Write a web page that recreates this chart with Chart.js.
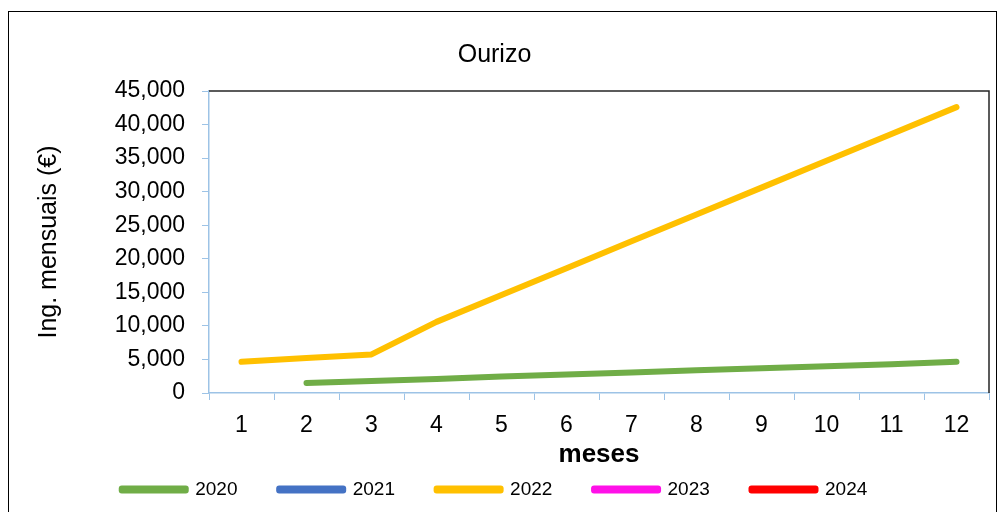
<!DOCTYPE html>
<html>
<head>
<meta charset="utf-8">
<script src="https://cdn.jsdelivr.net/npm/chart.js@4/dist/chart.umd.min.js"></script>
<style>
    html, body { margin: 0; padding: 0; background: #fff; }
    #wrap { position: relative; width: 1002px; height: 512px; overflow: hidden; }
    #frame { position: absolute; left: 8px; top: 11px; width: 987px; height: 520px; border: 1.5px solid #000; }
    #chart { position: absolute; left: 0; top: 0; }
</style>
</head>
<body>
<div id="wrap">
    <div id="frame"></div>
    <canvas id="chart" width="1002" height="512"></canvas>
</div>
<script>
const months = ['1', '2', '3', '4', '5', '6', '7', '8', '9', '10', '11', '12'];
const years = ['2020', '2021', '2022', '2023', '2024'];
const colors = ['#70AD47', '#4472C4', '#FFC000', '#FF10E8', '#FF0000'];

// ingresos mensuales por año (null = sin dato)
const ing2020 = [null, 1500, 1800, 2100, 2450, 2750, 3050, 3400, 3700, 4000, 4300, 4650];
const ing2021 = [];
const ing2022 = [4650, 5200, 5750, 10600, 14600, 18600, 22600, 26600, 30600, 34600, 38600, 42600];
const ing2023 = [];
const ing2024 = [];

const axisBlue = '#9DC3E6';
const font = "'Liberation Sans', Arial, sans-serif";

// marco negro arriba y a la derecha del área de trazado
const plotFrame = {
    id: 'plotFrame',
    afterDraw(chart) {
        const a = chart.chartArea;
        const c = chart.ctx;
        c.save();
        c.strokeStyle = '#262626';
        c.lineWidth = 1.5;
        c.beginPath();
        c.moveTo(a.left, a.top);
        c.lineTo(a.right, a.top);
        c.lineTo(a.right, a.bottom);
        c.stroke();
        c.restore();
    }
};

const series = [ing2020, ing2021, ing2022, ing2023, ing2024];

new Chart(document.getElementById('chart'), {
    type: 'line',
    data: {
        labels: months,
        datasets: series.map((d, i) => ({
            label: years[i],
            data: d,
            borderColor: colors[i],
            backgroundColor: colors[i],
            borderWidth: 6,
            borderCapStyle: 'round',
            borderJoinStyle: 'round',
            pointRadius: 0,
            pointHoverRadius: 0,
            spanGaps: false
        }))
    },
    options: {
        responsive: false,
        animation: false,
        layout: { padding: { left: 0, right: 13, top: 0, bottom: 3 } },
        plugins: {
            title: {
                display: true,
                text: 'Ourizo',
                color: '#000',
                font: { family: font, size: 25, weight: 'normal' },
                padding: { top: 40, bottom: 21 }
            },
            legend: {
                position: 'bottom',
                labels: {
                    color: '#000',
                    font: { family: font, size: 19 },
                    boxWidth: 64,
                    boxHeight: 2,
                    padding: 10,
                    // espacio extra entre entradas sin agrandar la altura
                    generateLabels(chart) {
                        const items = Chart.defaults.plugins.legend.labels.generateLabels(chart);
                        items.forEach((it, i) => {
                            if (i < items.length - 1) it.text += '      ';
                        });
                        return items;
                    }
                }
            },
            tooltip: { enabled: false }
        },
        scales: {
            x: {
                offset: true,
                grid: {
                    offset: true,
                    drawOnChartArea: false,
                    color: axisBlue,
                    tickLength: 7
                },
                border: { color: axisBlue, width: 1.5 },
                ticks: { color: '#000', font: { family: font, size: 23 }, padding: 12 },
                title: {
                    display: true,
                    text: 'meses',
                    color: '#000',
                    font: { family: font, size: 26, weight: 'bold' },
                    padding: { top: 0, bottom: 0 }
                },
                afterFit(scale) { scale.height = 77; }
            },
            y: {
                min: 0,
                max: 45000,
                grid: {
                    drawOnChartArea: false,
                    color: axisBlue,
                    tickLength: 7
                },
                border: { color: axisBlue, width: 1.5 },
                ticks: {
                    stepSize: 5000,
                    color: '#000',
                    font: { family: font, size: 23 },
                    padding: 17,
                    callback: v => v.toLocaleString('en-US')
                },
                title: {
                    display: true,
                    text: 'Ing. mensuais (€)',
                    color: '#000',
                    font: { family: font, size: 25, weight: 'normal' },
                    padding: { top: 34, bottom: 0 }
                },
                afterFit(scale) { scale.width = 209; }
            }
        }
    },
    plugins: [plotFrame]
});
</script>
</body>
</html>
